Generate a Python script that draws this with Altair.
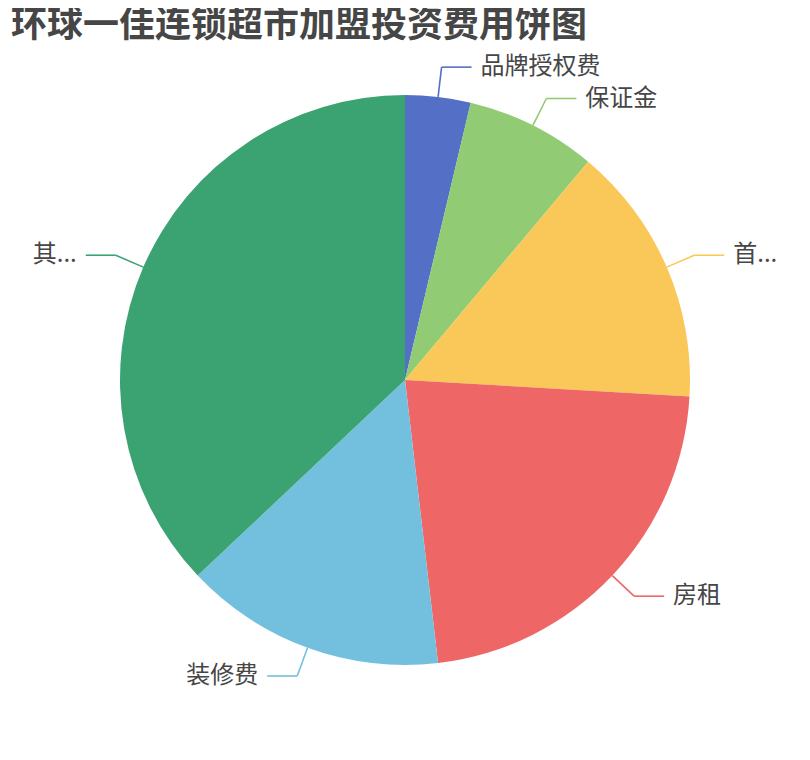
import altair as alt
import pandas as pd

names = ["品牌授权费", "保证金", "首...", "房租", "装修费", "其..."]
values = [5, 10, 20, 30, 20, 50]
colors = ["#5470c6", "#91cc75", "#fac858", "#ee6666", "#73c0de", "#3ba272"]
title_text = "环球一佳连锁超市加盟投资费用饼图"

df = pd.DataFrame({"name": names, "value": values, "idx": list(range(len(names)))})
title_df = pd.DataFrame({"t": [title_text]})

PAD_TOP = 8
W, H = 794, 744 - PAD_TOP
CX, CY = 397, 372 - PAD_TOP
R = 285
L1, L2, GAP = 30, 30, 9
FONT = "Noto Sans CJK SC"

base = alt.Chart(df)
color = alt.Color("name:N", scale=alt.Scale(domain=names, range=colors), legend=None)

pie = base.mark_arc(outerRadius=R).encode(
    theta=alt.Theta("value:Q", stack=True),
    order=alt.Order("idx:Q"),
    color=color,
    x=alt.value(CX),
    y=alt.value(CY),
)

geo = (
    base.transform_joinaggregate(total="sum(value)")
    .transform_window(cum="sum(value)", sort=[alt.SortField("idx")], frame=[None, 0])
    .transform_calculate(mid="2*PI*(datum.cum - datum.value/2)/datum.total")
    .transform_calculate(
        x1=f"{CX} + {R}*sin(datum.mid)",
        y1=f"{CY} - {R}*cos(datum.mid)",
        x2=f"{CX} + {R + L1}*sin(datum.mid)",
        y2=f"{CY} - {R + L1}*cos(datum.mid)",
        side="sin(datum.mid) >= 0 ? 1 : -1",
    )
    .transform_calculate(
        x3=f"datum.x2 + datum.side*{L2}",
        tx=f"datum.x2 + datum.side*{L2 + GAP}",
    )
)

seg1 = geo.mark_rule(strokeWidth=1.6).encode(
    x=alt.X("x1:Q", scale=None, axis=None),
    y=alt.Y("y1:Q", scale=None, axis=None),
    x2="x2:Q",
    y2="y2:Q",
    color=color,
)
seg2 = geo.mark_rule(strokeWidth=1.6).encode(
    x=alt.X("x2:Q", scale=None, axis=None),
    y=alt.Y("y2:Q", scale=None, axis=None),
    x2="x3:Q",
    y2="y2:Q",
    color=color,
)
text_r = geo.transform_filter("datum.side > 0").mark_text(
    align="left", baseline="middle", fontSize=24, font=FONT, color="#464646"
).encode(
    x=alt.X("tx:Q", scale=None, axis=None),
    y=alt.Y("y2:Q", scale=None, axis=None),
    text="name:N",
)
text_l = geo.transform_filter("datum.side < 0").mark_text(
    align="right", baseline="middle", fontSize=24, font=FONT, color="#464646"
).encode(
    x=alt.X("tx:Q", scale=None, axis=None),
    y=alt.Y("y2:Q", scale=None, axis=None),
    text="name:N",
)
title = alt.Chart(title_df).mark_text(
    align="left", baseline="middle", fontSize=36, fontWeight="bold", font=FONT, color="#464646"
).encode(x=alt.value(3), y=alt.value(10), text="t:N")

chart = (
    alt.layer(pie, seg1, seg2, text_r, text_l, title)
    .properties(
        width=W,
        height=H,
        padding={"left": 0, "top": PAD_TOP, "right": 0, "bottom": 0},
        autosize="none",
    )
    .configure_view(stroke=None)
)
chart.save("out.html", embed_options={"renderer": "svg", "actions": False})
